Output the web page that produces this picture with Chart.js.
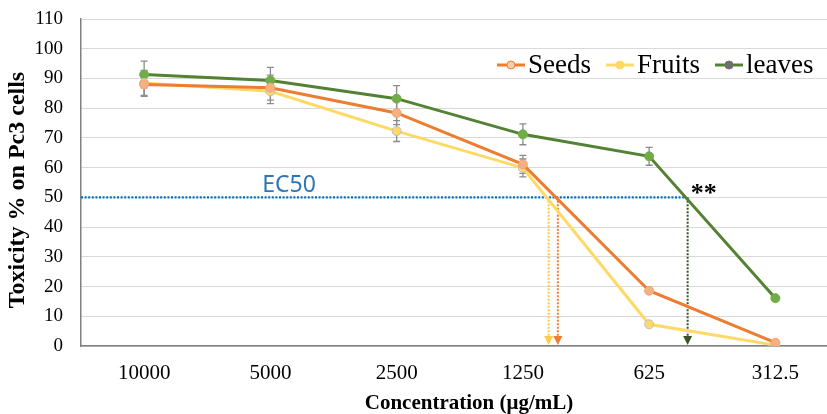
<!DOCTYPE html>
<html>
<head>
<meta charset="utf-8">
<script src="https://cdn.jsdelivr.net/npm/chart.js@4.4.1/dist/chart.umd.min.js"></script>
<style>
  html, body { margin: 0; padding: 0; background: #fff; overflow: hidden; }
  #wrap { width: 827px; height: 414px; overflow: hidden; position: relative; }
  canvas { display: block; }
</style>
</head>
<body>
<div id="wrap"><canvas id="c" width="844" height="414"></canvas></div>
<script>
// Concentration series (µg/mL) and toxicity readings on Pc3 cells
const concentrations = ['10000', '5000', '2500', '1250', '625', '312.5'];
const seeds  = [88.0, 86.9, 78.4, 61.1, 18.6, 1.1];
const fruits = [88.5, 85.7, 72.3, 59.9, 7.3, 0.3];
const leaves = [91.3, 89.3, 83.2, 71.2, 63.8, 16.1];
// Standard deviations
const seedsErr  = [4.0, 4.2, 3.9, 3.0, 0, 0];
const fruitsErr = [4.2, 4.2, 3.5, 3.0, 0, 0];
const leavesErr = [4.5, 4.4, 4.4, 3.5, 3.0, 0];
const yTicks = [0, 10, 20, 30, 40, 50, 60, 70, 80, 90, 100, 110];
const ec50Level = 50;

const SERIF = '"Liberation Serif", "Times New Roman", serif';

// fractional category index where a series drops through a level
function crossing(values, level) {
  for (let i = 0; i < values.length - 1; i++) {
    if (values[i] >= level && values[i + 1] < level) {
      return i + (values[i] - level) / (values[i] - values[i + 1]);
    }
  }
  return null;
}

const errorBars = {
  id: 'errorBars',
  beforeDatasetsDraw(chart) {
    const { ctx, scales: { x, y } } = chart;
    ctx.save();
    ctx.strokeStyle = '#8C8C8C';
    ctx.lineWidth = 1.3;
    chart.data.datasets.forEach(ds => {
      ds.values.forEach((v, i) => {
        const e = ds.err[i];
        if (!e) return;
        const px = x.getPixelForValue(i);
        const top = y.getPixelForValue(v + e);
        const bot = y.getPixelForValue(v - e);
        ctx.beginPath();
        ctx.moveTo(px, top); ctx.lineTo(px, bot);
        ctx.moveTo(px - 3.5, top); ctx.lineTo(px + 3.5, top);
        ctx.moveTo(px - 3.5, bot); ctx.lineTo(px + 3.5, bot);
        ctx.stroke();
      });
    });
    ctx.restore();
  }
};

const ec50Marks = {
  id: 'ec50Marks',
  beforeDatasetsDraw(chart) {
    const { ctx, chartArea, scales: { x, y } } = chart;
    const y50 = y.getPixelForValue(ec50Level);
    const y0 = y.getPixelForValue(0);
    const series = chart.data.datasets;
    const crossX = series.map(ds => x.getPixelForValue(crossing(ds.values, ec50Level)));
    const farthest = Math.max(...crossX);

    ctx.save();
    // horizontal EC50 guide
    ctx.strokeStyle = '#0070C0';
    ctx.lineWidth = 2.2;
    ctx.setLineDash([2, 1.6]);
    ctx.beginPath();
    ctx.moveTo(chartArea.left, y50);
    ctx.lineTo(farthest, y50);
    ctx.stroke();

    // vertical drop arrows to the concentration axis
    series.forEach((ds, k) => {
      const px = crossX[k] + 2;
      ctx.strokeStyle = ds.arrowColor;
      ctx.fillStyle = ds.arrowColor;
      ctx.lineWidth = 2;
      ctx.setLineDash([2, 1.5]);
      ctx.beginPath();
      ctx.moveTo(px, y50);
      ctx.lineTo(px, y0 - 9);
      ctx.stroke();
      ctx.setLineDash([]);
      ctx.beginPath();
      ctx.moveTo(px - 4.5, y0 - 10);
      ctx.lineTo(px + 4.5, y0 - 10);
      ctx.lineTo(px, y0 - 1);
      ctx.closePath();
      ctx.fill();
    });

    // label
    ctx.fillStyle = '#2E75B6';
    ctx.font = '23px "Noto Sans", sans-serif';
    ctx.textAlign = 'left';
    ctx.textBaseline = 'alphabetic';
    ctx.fillText('EC50', x.getPixelForValue(0.935), y50 - 5);

    ctx.fillStyle = '#000';
    ctx.font = 'bold 26px ' + SERIF;
    ctx.fillText('**', farthest + 5, y50 + 4);
    ctx.restore();
  }
};

const legendAndTitles = {
  id: 'legendAndTitles',
  afterDraw(chart) {
    const { ctx } = chart;
    ctx.save();
    // legend
    ctx.font = '27px ' + SERIF;
    ctx.textBaseline = 'middle';
    ctx.textAlign = 'left';
    let lx = 497;
    const ly = 65;
    chart.data.datasets.forEach(ds => {
      ctx.strokeStyle = ds.borderColor;
      ctx.lineWidth = 3;
      ctx.beginPath();
      ctx.moveTo(lx, ly); ctx.lineTo(lx + 28, ly);
      ctx.stroke();
      ctx.beginPath();
      ctx.arc(lx + 14, ly, 4, 0, Math.PI * 2);
      ctx.fillStyle = ds.legendDot;
      ctx.fill();
      ctx.lineWidth = 1;
      ctx.strokeStyle = ds.legendDotBorder;
      ctx.stroke();
      ctx.fillStyle = '#000';
      ctx.fillText(ds.label, lx + 31, ly + 1);
      lx += 31 + ctx.measureText(ds.label).width + 15;
    });

    // axis titles
    ctx.fillStyle = '#000';
    ctx.textAlign = 'center';
    ctx.font = 'bold 21px ' + SERIF;
    ctx.fillText('Concentration (μg/mL)', 469, 404);
    ctx.font = 'bold 24px ' + SERIF;
    ctx.translate(18, 190);
    ctx.rotate(-Math.PI / 2);
    ctx.fillText('Toxicity % on Pc3 cells', 0, 0);
    ctx.restore();
  }
};

new Chart(document.getElementById('c'), {
  type: 'line',
  data: {
    labels: concentrations,
    datasets: [
      {
        label: 'Seeds', data: seeds, values: seeds, err: seedsErr,
        borderColor: '#ED7D31', backgroundColor: '#F4B183',
        pointBackgroundColor: '#F4B183', pointBorderColor: '#F4A46E',
        legendDot: '#F8CBAD', legendDotBorder: '#ED7D31',
        arrowColor: '#ED7D31'
      },
      {
        label: 'Fruits', data: fruits, values: fruits, err: fruitsErr,
        borderColor: '#FFD966', backgroundColor: '#FFD966',
        pointBackgroundColor: '#FFD966', pointBorderColor: '#B4C0D6',
        legendDot: '#FFD966', legendDotBorder: '#FFD966',
        arrowColor: '#FFC94A'
      },
      {
        label: 'leaves', data: leaves, values: leaves, err: leavesErr,
        borderColor: '#548235', backgroundColor: '#70AD47',
        pointBackgroundColor: '#70AD47', pointBorderColor: '#70AD47',
        legendDot: '#6E6E6E', legendDotBorder: '#6E6E6E',
        arrowColor: '#375623'
      }
    ]
  },
  options: {
    responsive: false,
    animation: false,
    devicePixelRatio: 1,
    layout: { padding: { top: 19, right: 1, left: 0, bottom: 0 } },
    elements: {
      line: { borderWidth: 3, tension: 0 },
      point: { radius: 4.5, borderWidth: 1, hoverRadius: 4.5 }
    },
    plugins: { legend: { display: false }, tooltip: { enabled: false } },
    scales: {
      x: {
        type: 'category',
        offset: true,
        grid: { display: false, drawTicks: false },
        border: { display: true, color: '#808080', width: 1.5 },
        ticks: { color: '#000', font: { family: SERIF, size: 21 }, padding: 15, maxRotation: 0 },
        afterFit(s) { s.height = 68; }
      },
      y: {
        min: yTicks[0],
        max: yTicks[yTicks.length - 1],
        afterBuildTicks(s) { s.ticks = yTicks.map(v => ({ value: v })); },
        grid: { color: '#D9D9D9', lineWidth: 1, drawTicks: false },
        border: { display: true, color: '#808080', width: 1.5 },
        ticks: { color: '#000', font: { family: SERIF, size: 19 }, padding: 18 },
        afterFit(s) { s.width = 81; s.paddingTop = 0; s.paddingBottom = 0; }
      }
    }
  },
  plugins: [errorBars, ec50Marks, legendAndTitles]
});
</script>
</body>
</html>
